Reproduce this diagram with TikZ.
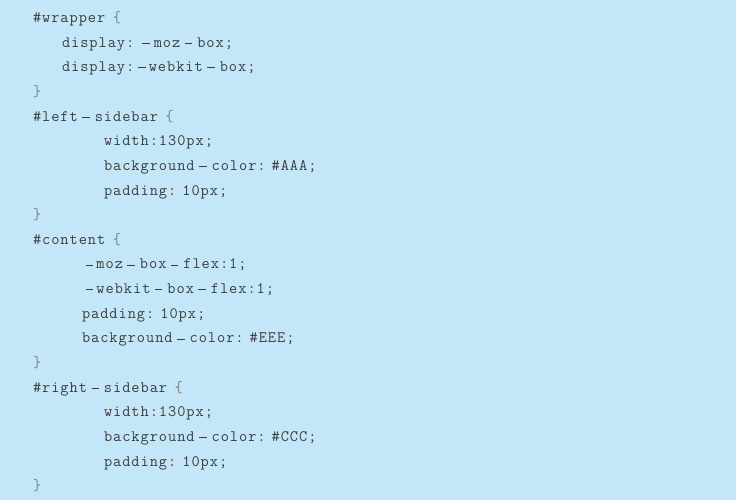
\documentclass[tikz,border=0pt]{standalone}
\usepackage{fontspec}
\newfontfamily\codefont[LetterSpace=6]{Latin Modern Mono}
\definecolor{bgblue}{RGB}{195,231,249}
\definecolor{codetext}{RGB}{60,60,60}
\definecolor{bracecol}{RGB}{125,125,125}
\newcommand{\dbar}{\rule[3.8pt]{7.5pt}{0.6pt}}
\newcommand{\dsh}{\hspace{4.5pt}\dbar\hspace{5pt}}
\newcommand{\brc}[1]{\hspace{7.5pt}{\color{bracecol}#1}}
\begin{document}
\begin{tikzpicture}[x=1bp,y=-1bp,
  codeline/.style={anchor=base west,inner sep=0pt,outer sep=0pt,font=\codefont\fontsize{16}{18}\selectfont,text=codetext}]
\fill[bgblue] (0,0) rectangle (736,500);
\useasboundingbox (0,0) rectangle (736,500);
\def\bl#1{22.5+24.65*(#1-1)}
\node[codeline] (l1)  at (33,{\bl{1}})  {\#wrapper\brc{\{}};
\node[codeline] (l2)  at (62,{\bl{2}})  {display:\hspace{8pt}\dbar\hspace{4pt}moz\dsh box;};
\node[codeline] (l3)  at (62,{\bl{3}})  {display:\hspace{4pt}\dbar\hspace{3pt}webkit\dsh box;};
\node[codeline] (l4)  at (33,{\bl{4}})  {{\color{bracecol}\}}};
\node[codeline] (l5)  at (33,{\bl{5}})  {\#left\dsh sidebar\brc{\{}};
\node[codeline] (l6)  at (104,{\bl{6}}) {width:130px;};
\node[codeline] (l7)  at (104,{\bl{7}}) {background\dsh color:\hspace{6pt}\#AAA;};
\node[codeline] (l8)  at (104,{\bl{8}}) {padding:\hspace{6pt}10px;};
\node[codeline] (l9)  at (33,{\bl{9}})  {{\color{bracecol}\}}};
\node[codeline] (l10) at (33,{\bl{10}}) {\#content\brc{\{}};
\node[codeline] (l11) at (86,{\bl{11}}) {\dbar\hspace{3pt}moz\dsh box\dsh flex:1;};
\node[codeline] (l12) at (86,{\bl{12}}) {\dbar\hspace{3pt}webkit\dsh box\dsh flex:1;};
\node[codeline] (l13) at (82,{\bl{13}}) {padding:\hspace{6pt}10px;};
\node[codeline] (l14) at (82,{\bl{14}}) {background\dsh color:\hspace{6pt}\#EEE;};
\node[codeline] (l15) at (33,{\bl{15}}) {{\color{bracecol}\}}};
\node[codeline] (l16) at (33,{\bl{16}}) {\#right\dsh sidebar\brc{\{}};
\node[codeline] (l17) at (104,{\bl{17}}) {width:130px;};
\node[codeline] (l18) at (104,{\bl{18}}) {background\dsh color:\hspace{6pt}\#CCC;};
\node[codeline] (l19) at (104,{\bl{19}}) {padding:\hspace{6pt}10px;};
\node[codeline] (l20) at (33,{\bl{20}}) {{\color{bracecol}\}}};
\end{tikzpicture}
\end{document}
